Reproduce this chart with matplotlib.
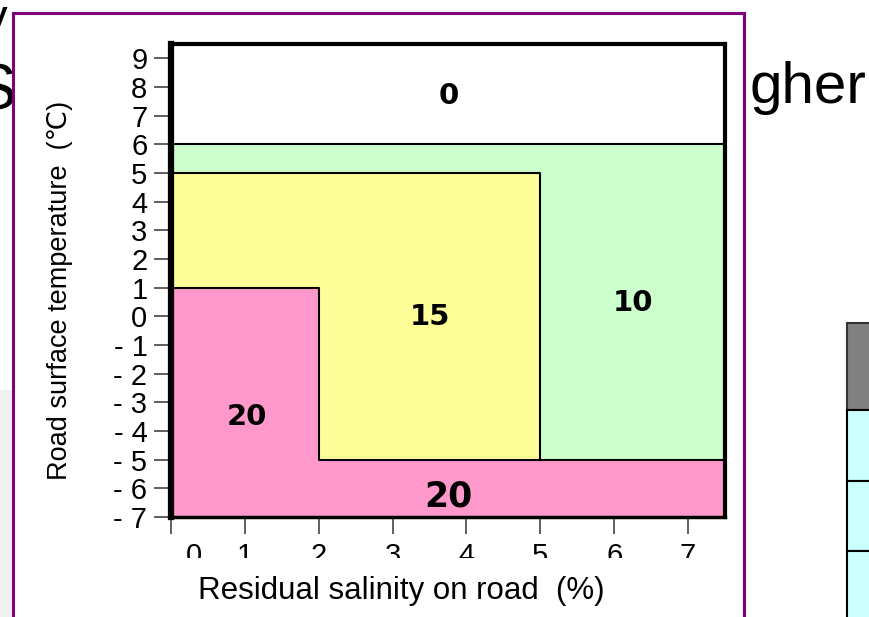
import matplotlib
matplotlib.use('Agg')
import matplotlib.pyplot as plt
from matplotlib.patches import Rectangle

plt.rcParams['font.family'] = ['Liberation Sans', 'DejaVu Sans']

W, H = 869, 617

# axis ticks
salinity_ticks = [0, 1, 2, 3, 4, 5, 6, 7]
salinity_tick_labels = ['', '1', '2', '3', '4', '5', '6', '7']
temp_ticks = list(range(-7, 10))
temp_tick_labels = [str(t) if t >= 0 else '- ' + str(-t) for t in temp_ticks]

# zones (salinity %, road temperature C)
green_x = [0, 7.5, 7.5, 0]
green_y = [-5, -5, 6, 6]
yellow_x = [0, 5, 5, 0]
yellow_y = [-5, -5, 5, 5]
pink_x = [0, 7.5, 7.5, 2, 2, 0]
pink_y = [-7, -7, -5, -5, 1, 1]

zone_text = ['0', '10', '15', '20', '20']
zone_x = [3.76, 6.26, 3.51, 1.03, 3.76]
zone_y = [7.7, 0.46, -0.03, -3.5, -6.3]
zone_size = [21, 21, 21, 21, 25]


def fx(x):
    return x / W


def fy(y):
    return 1 - y / H


fig = plt.figure(figsize=(W / 100, H / 100), dpi=100)

# slide stuff behind the chart
fig.text(fx(16), fy(110), 'S', fontsize=46, ha='right', zorder=1)
fig.text(fx(8), fy(32), 'y', fontsize=34, ha='right', zorder=1)
fig.text(fx(866), fy(103), 'gher', fontsize=42, ha='right', zorder=1)
fig.add_artist(Rectangle((fx(0), fy(640)), fx(12), fy(390) - fy(640), facecolor='#f0f0f0',
                         edgecolor='none', zorder=1))
# table fragment at the right
fig.add_artist(Rectangle((fx(847), fy(410)), fx(40), fy(323) - fy(410), facecolor='#808080',
                         edgecolor='#333333', lw=1.5, zorder=1))
for top, bot in [(410, 481), (481, 551), (551, 640)]:
    fig.add_artist(Rectangle((fx(847), fy(bot)), fx(40), fy(top) - fy(bot), facecolor='#ccffff',
                             edgecolor='black', lw=1.5, zorder=1))

# white frame with purple border
fig.add_artist(Rectangle((fx(13), fy(640)), fx(744 - 13), fy(13) - fy(640), facecolor='white',
                         edgecolor='#800080', lw=2.2, zorder=2))

ax = fig.add_axes([fx(171), fy(517), fx(725 - 171), fy(44) - fy(517)])
ax.set_zorder(3)

ax.fill(green_x, green_y, color='#ccffcc', lw=0)
ax.fill(yellow_x, yellow_y, color='#ffff99', lw=0)
ax.fill(pink_x, pink_y, color='#ff99cc', lw=0)
ax.plot(green_x[2:], green_y[2:], color='black', lw=1.5)
ax.plot(yellow_x[1:], yellow_y[1:], color='black', lw=1.5)
ax.plot(pink_x[2:], pink_y[2:], color='black', lw=1.5)

for t, x, y, s in zip(zone_text, zone_x, zone_y, zone_size):
    ax.text(x, y, t, ha='center', va='center', fontsize=s, fontweight='bold',
            family='DejaVu Sans')

ax.set_xlim(0, 7.5)
ax.set_ylim(-7, 9.5)
ax.set_xticks(salinity_ticks)
ax.set_xticklabels(salinity_tick_labels)
ax.set_yticks(temp_ticks)
ax.set_yticklabels(temp_tick_labels)
ax.tick_params(axis='both', labelsize=21, length=12, width=1.2, color='#444444', direction='out')
ax.tick_params(axis='y', pad=5)
ax.tick_params(axis='x', pad=6)
# the "0" sits a bit right of its tick
ax.annotate('0', xy=(0.31, 0), xycoords=('data', 'axes fraction'), xytext=(0, -18),
            textcoords='offset points', ha='center', va='top', fontsize=21)

for side, lw in [('left', 4.5), ('top', 3), ('right', 3), ('bottom', 2.5)]:
    ax.spines[side].set_linewidth(lw)

ax.set_xlabel('Residual salinity on road  (%)', fontsize=22.5)
ax.xaxis.set_label_coords(0.415, -0.125)
ax.set_ylabel('Road surface temperature  (℃)', fontsize=19.5)
ax.yaxis.set_label_coords(-0.177, 0.48)

# the bottom of the x tick labels is cut off in the original
fig.add_artist(Rectangle((fx(160), fy(569)), fx(560), fy(558) - fy(569), facecolor='white',
                         edgecolor='none', zorder=4))

fig.savefig('out.png', dpi=100)
